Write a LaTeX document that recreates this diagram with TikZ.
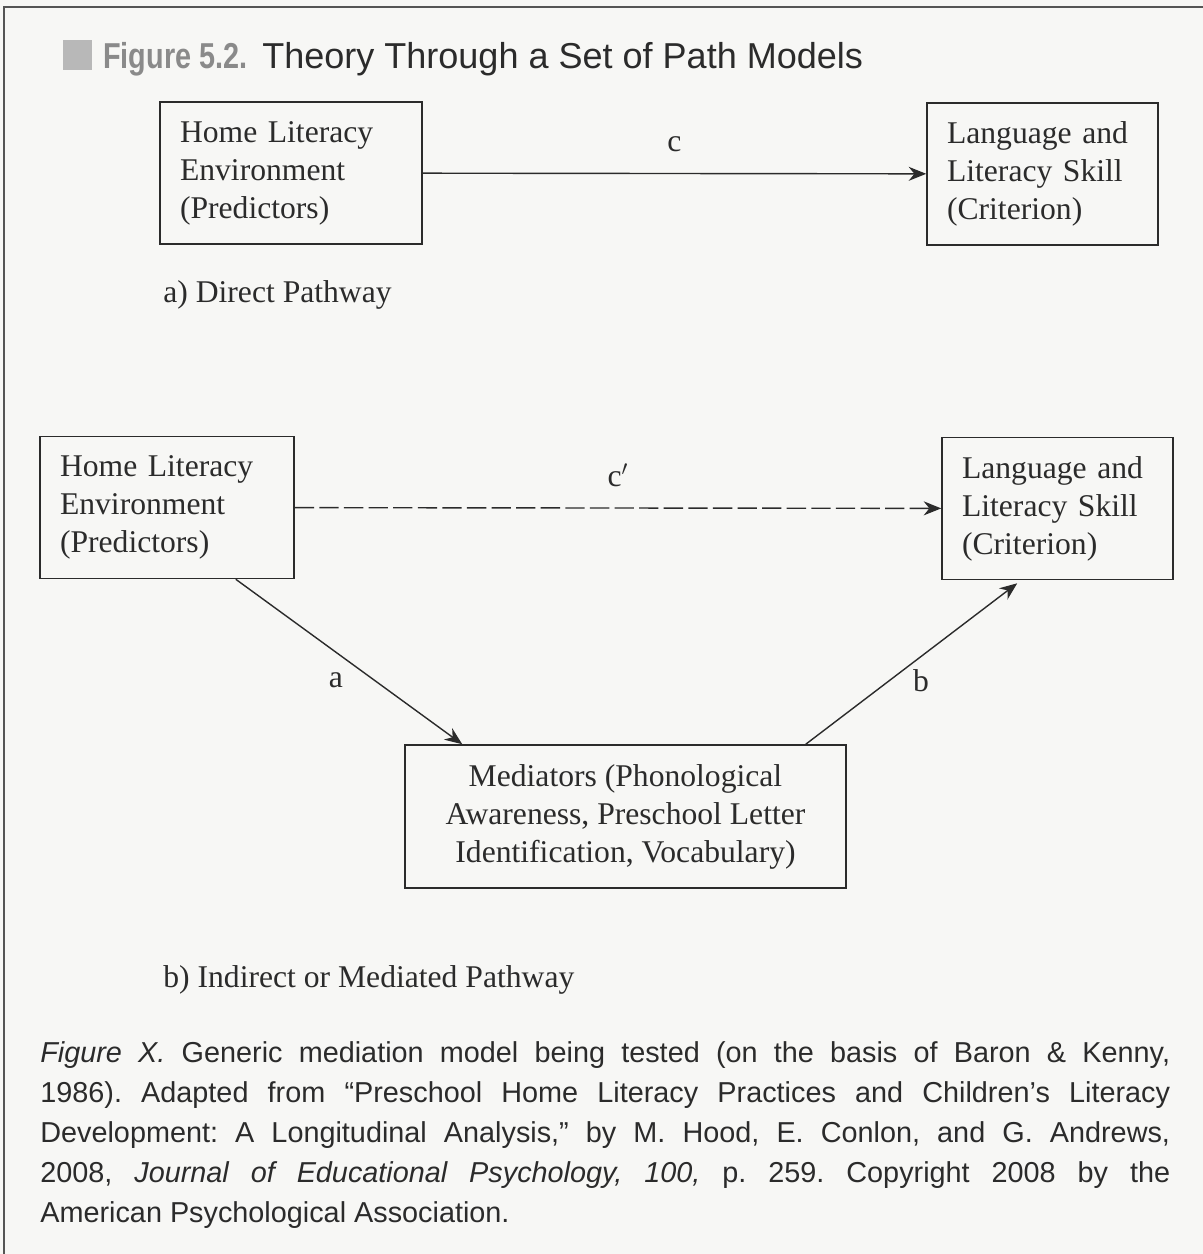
\documentclass[tikz,border=0pt]{standalone}
\usepackage{fontspec}
\usepackage{graphicx}
\setmainfont{Liberation Serif}
\setsansfont{Liberation Sans}
\usetikzlibrary{arrows.meta}
\definecolor{paper}{HTML}{F7F7F5}
\definecolor{ink}{HTML}{2B2B2B}
\definecolor{tabgray}{HTML}{B8B8B8}
\definecolor{figgray}{HTML}{8A8A8A}
\tikzset{
  pathbox/.style={draw=ink, line width=0.9pt, minimum height=2.84cm, inner xsep=0.4cm,
    align=left, text=ink, font=\fontsize{18}{21.6}\selectfont},
  pathlbl/.style={text=ink, font=\fontsize{18}{21.6}\selectfont},
  link/.style={draw=ink, line width=0.8pt, -{Stealth[length=10pt,width=8pt]}},
}
\begin{document}
\frenchspacing
\begin{tikzpicture}[x=0.02cm, y=-0.02cm]
\useasboundingbox (0,0) rectangle (1203,1254);
\fill[paper] (0,0) rectangle (1203,1254);
% frame and heading
\draw[ink!80, line width=1.2pt] (4,1254) -- (4,7) -- (1203,7);
\fill[tabgray] (63,40) rectangle (92,70);
\node[anchor=base west, inner sep=0, text=figgray, font=\sffamily\bfseries\fontsize{20.5}{24}\selectfont] (fignum) at (103,68) {\scalebox{0.8}[1]{Figure 5.2.}};
\node[anchor=base west, inner sep=0, text=ink, font=\sffamily\fontsize{20.5}{24}\selectfont] (title) at (262,68) {Theory Through a Set of Path Models};
% a) direct
\node[pathbox, text width=4.44cm] (hle1) at (291,173) {Home Literacy\\Environment\\(Predictors)};
\node[pathbox, text width=3.82cm] (lls1) at (1042.5,174) {Language and\\Literacy Skill\\(Criterion)};
\node[pathlbl, anchor=west, inner sep=0] (capa) at (163,295) {a) Direct Pathway};
\draw[link] (hle1) -- node[pathlbl, above=0.3cm] (lc) {c} (lls1);
% b) mediated
\node[pathbox, text width=4.28cm] (hle2) at (167,507.5) {Home Literacy\\Environment\\(Predictors)};
\node[pathbox, text width=3.82cm] (lls2) at (1057.5,508.5) {Language and\\Literacy Skill\\(Criterion)};
\node[pathbox, align=center, minimum width=8.82cm, minimum height=2.86cm] (med) at (625.5,816.5) {Mediators (Phonological\\Awareness, Preschool Letter\\Identification, Vocabulary)};
\node[pathlbl, anchor=west, inner sep=0] (capb) at (163,980) {b) Indirect or Mediated Pathway};
\draw[link, dash pattern=on 11pt off 3pt] (hle2) -- node[pathlbl, above=0.3cm] (lcp) {c$'$} (lls2);
\draw[link] ([xshift=-1.18cm]hle2.south east) -- node[pathlbl, xshift=-0.26cm, yshift=-0.36cm] (la) {a} ([xshift=1.16cm]med.north west);
\draw[link] ([xshift=-0.82cm]med.north east) -- node[pathlbl, xshift=0.19cm, yshift=-0.33cm] (lb) {b} ([xshift=1.52cm,yshift=-0.06cm]lls2.south west);
% caption
\node[anchor=north west, inner sep=0, text width=22.6cm, align=justify, text=ink, font=\sffamily\fontsize{16.4}{22.8}\selectfont] (note) at (40,1041) {%
\textit{Figure X.} Generic mediation model being tested (on the basis of Baron \& Kenny,\linebreak
1986). Adapted from “Preschool Home Literacy Practices and Children’s Literacy\linebreak
Development: A Longitudinal Analysis,” by M. Hood, E. Conlon, and G. Andrews,\linebreak
2008, \textit{Journal of Educational Psychology, 100,} p. 259. Copyright 2008 by the\linebreak
American Psychological Association.};
\end{tikzpicture}
\end{document}
